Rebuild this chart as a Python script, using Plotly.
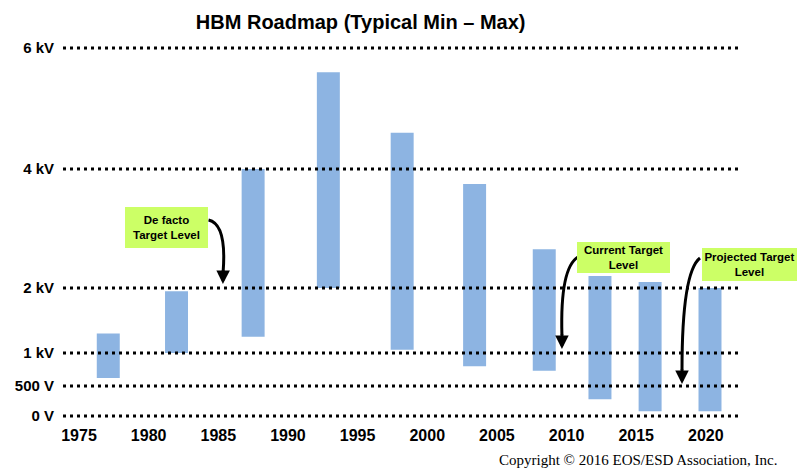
# HBM roadmap - typical min/max withstand levels per period

import numpy as np
import plotly.graph_objects as go

# data
years = [1977.1, 1982.0, 1987.5, 1992.9, 1998.2, 2003.4, 2008.4, 2012.4, 2016.0, 2020.3]
v_min = [620, 1000, 1250, 2000, 1050, 800, 730, 280, 80, 80]
v_max = [1300, 1950, 4000, 5600, 4600, 3750, 2650, 2200, 2100, 2000]

tick_volts = [0, 500, 1000, 2000, 4000, 6000]
tick_text = ['0 V', '500 V', '1 kV', '2 kV', '4 kV', '6 kV']
year_ticks = [1975, 1980, 1985, 1990, 1995, 2000, 2005, 2010, 2015, 2020]

# the original axis is not linear, so map volts onto a piecewise scale
scale_pos = [0, 30, 63, 128, 247, 368]


def vpos(v):
    return np.interp(v, tick_volts, scale_pos)


lo = vpos(v_min)
hi = vpos(v_max)

fig = go.Figure(go.Bar(
    x=years,
    y=hi - lo,
    base=lo,
    width=1.65,
    marker=dict(color='#8DB4E2', line=dict(width=0)),
    hoverinfo='skip'
))

# dotted level lines sit above the bars
for v in tick_volts:
    fig.add_shape(type='line', xref='paper', yref='y', x0=0, x1=1, y0=vpos(v), y1=vpos(v),
                  line=dict(color='black', width=3, dash='3px,4px'), layer='above')

# green call-out boxes
box_font = dict(family='Liberation Sans', size=11.5, color='black', weight='bold')
boxes = [
    ('De facto<br>Target Level', 0.1533, 0.512, 83, 41),
    ('Current Target<br>Level', 0.8304, 0.432, 93, 31),
    ('Projected Target<br>Level', 1.017, 0.4136, 95, 33),
]
for txt, bx, by, w, h in boxes:
    fig.add_annotation(text=txt, xref='paper', yref='paper', x=bx, y=by,
                       xanchor='center', yanchor='middle', showarrow=False,
                       width=w, height=h, bgcolor='#CCFF66', borderpad=0, borderwidth=0,
                       font=box_font)

# curved arrows: (start, control, end, tip) in data coords
arrows = [
    ((1984.3, 196), (1985.6, 192), (1985.35, 145), (1985.33, 132)),
    ((2010.82, 159), (2009.53, 148), (2009.67, 81), (2009.67, 67)),
    ((2019.58, 158), (2018.29, 144), (2018.29, 46), (2018.29, 32)),
]
for (x0, y0), (cx, cy), (x1, y1), (tx, ty) in arrows:
    fig.add_shape(type='path', xref='x', yref='y',
                  path=f'M {x0},{y0} Q {cx},{cy} {x1},{y1}',
                  line=dict(color='black', width=3), layer='above')
    fig.add_annotation(x=tx, y=ty, ax=x1, ay=y1 + 2, axref='x', ayref='y', xref='x', yref='y',
                       text='', showarrow=True, arrowhead=2, arrowsize=0.9,
                       arrowwidth=3, arrowcolor='black')

fig.add_annotation(text='Copyright © 2016 EOS/ESD Association, Inc.',
                   xref='paper', yref='paper', x=1.0607, y=-0.106,
                   xanchor='right', yanchor='middle', showarrow=False,
                   font=dict(family='Liberation Serif', size=15, color='black'))

fig.update_layout(
    width=798, height=468,
    margin=dict(l=63, r=60, t=44, b=48),
    plot_bgcolor='white',
    paper_bgcolor='white',
    showlegend=False,
    title=dict(text='HBM Roadmap (Typical Min – Max)', x=0.452, y=0.953,
               xanchor='center', yanchor='middle',
               font=dict(family='Liberation Sans', size=20, color='black', weight='bold')),
    xaxis=dict(range=[1973.85, 2022.31], tickvals=year_ticks, showgrid=False,
               zeroline=False, showline=False, ticks='', ticklabelstandoff=4,
               tickfont=dict(family='Liberation Sans', size=16, color='black', weight='bold')),
    yaxis=dict(range=[-4, 372], tickvals=vpos(tick_volts), ticktext=tick_text,
               showgrid=False, zeroline=False, showline=False, ticks='', ticklabelstandoff=8,
               tickfont=dict(family='Liberation Sans', size=15, color='black', weight='bold')),
)

# drop the default page margin so the chart sits at the window's corner
fig.write_html('out.html', config={'displayModeBar': False},
               post_script="document.body.style.margin='0';")
